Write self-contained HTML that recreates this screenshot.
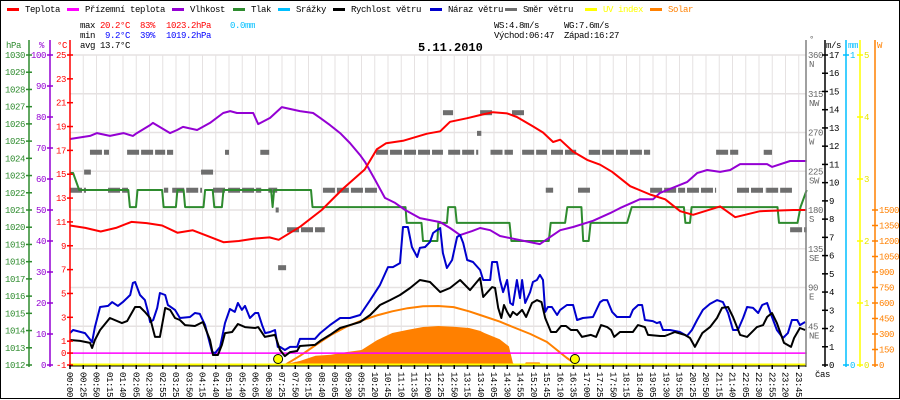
<!DOCTYPE html>
<html><head><meta charset="utf-8"><style>
html,body{margin:0;padding:0;background:#fff;width:900px;height:400px;overflow:hidden}
svg{display:block;font-family:"Liberation Mono","DejaVu Sans Mono",monospace;letter-spacing:-0.4px}
</style></head><body>
<svg id="chart" width="900" height="400" viewBox="0 0 900 400" xmlns="http://www.w3.org/2000/svg">
<rect x="0.5" y="0.5" width="899" height="398" fill="#fff" stroke="#000"/>
<g id="grid"></g>
<g id="series"></g>
<g id="axes"></g>
<g id="legend" font-size="9"></g>
<g font-size="9">
<text x="80" y="28">max</text>
<text x="100" y="28" fill="#f00">20.2°C</text>
<text x="140" y="28" fill="#f00">83%</text>
<text x="166" y="28" fill="#f00">1023.2hPa</text>
<text x="230" y="28" fill="#00bfff">0.0mm</text>
<text x="80" y="38">min</text>
<text x="105" y="38" fill="#00f">9.2°C</text>
<text x="140" y="38" fill="#00f">39%</text>
<text x="166" y="38" fill="#00f">1019.2hPa</text>
<text x="80" y="48">avg 13.7°C</text>
<text x="494" y="28">WS:4.8m/s</text>
<text x="564" y="28">WG:7.6m/s</text>
<text x="494" y="38">Východ:06:47</text>
<text x="564" y="38">Západ:16:27</text>
<text x="418" y="51" font-size="12" font-weight="bold" letter-spacing="0">5.11.2010</text>
</g>
</svg>
<script>
// ---------- data ----------
const timeLabels=["00:00","00:25","00:50","01:15","01:40","02:05","02:30","02:55","03:25","03:50","04:15","04:40","05:10","05:40","06:05","06:30","07:25","07:50","08:15","08:40","09:05","09:30","09:55","10:20","10:45","11:10","11:35","12:00","12:25","12:50","13:15","13:40","14:05","14:30","14:55","15:20","15:45","16:10","16:35","17:00","17:25","17:50","18:15","18:40","19:05","19:30","19:55","20:25","20:50","21:15","21:40","22:05","22:30","22:55","23:20","23:45"];
const tempHours=[0,0.5,1,1.5,2,2.5,3,3.5,4,4.5,5,5.5,6,6.5,6.8,7.5,8.2,8.9,9.6,10.0,10.3,10.85,11.63,12.06,12.38,12.94,13.42,13.78,14.24,14.56,15.09,15.41,15.74,15.97,16.39,16.85,17.27,17.66,18.25,18.9,19.39,19.88,20.3,21.18,21.67,22.48,23.56,24];
const tempValues=[10.7,10.5,10.2,10.5,11.0,10.9,10.7,10.1,10.3,9.8,9.3,9.4,9.6,9.7,9.5,10.6,12.0,13.8,15.4,17.1,17.6,17.8,18.4,18.6,19.4,19.7,20.0,20.2,20.1,19.8,19.0,18.5,17.7,17.9,16.9,16.2,15.8,15.2,14.0,13.3,12.9,11.9,11.6,12.3,11.4,11.9,12.0,12.0];
const feelHours=[0,24];
const feelValues=[0,0];
const humHours=[0,0.65,0.88,1.3,1.74,2.05,2.18,2.61,2.7,3.26,3.49,3.68,4.14,4.56,4.99,5.22,5.44,5.97,6.13,6.52,6.9,7.49,7.92,8.15,8.47,8.8,9.12,9.45,9.61,9.94,10.26,10.59,10.92,11.4,12.06,12.38,12.71,13.1,13.36,13.69,14.01,14.66,15.31,15.97,16.39,17.04,17.6,17.92,18.57,19.0,19.22,20.1,20.43,20.76,21.18,21.51,21.83,22.71,22.87,23.46,24];
const humValues=[72.9,73.9,74.8,73.9,74.8,73.9,74.8,77.4,78.1,74.8,75.8,76.8,75.8,78.1,81.3,81.9,81.3,81.3,77.7,79.7,83.2,81.9,81.3,79.7,77.4,74.8,71.6,67.7,65.5,59.7,53.9,52.3,50,47.4,46.1,44.2,41.9,43.2,44.2,43.5,41.6,40.3,39,43.5,44.5,46.5,49,50.6,53.5,53.5,55.5,59,61.9,62.9,62.3,62.9,64.8,64.8,63.9,65.8,65.8];
const pressHours=[0,0.1,0.3,1.9,1.95,2.15,2.2,3.0,3.05,3.45,3.5,3.7,3.75,4.35,4.4,4.65,4.7,4.95,5.0,6.55,6.6,6.65,7.85,7.9,10.93,10.97,11.45,11.5,11.97,12.0,12.28,12.32,12.55,12.6,14.32,14.38,15.6,15.66,16.13,16.2,16.66,16.72,16.9,16.96,18.15,18.3,20.0,20.05,20.2,20.25,23.05,23.1,23.7,23.8,24];
const pressValues=[1023.15,1023.15,1022.16,1022.16,1021.17,1021.17,1022.16,1022.16,1021.17,1021.17,1022.16,1022.16,1021.17,1021.17,1022.16,1022.16,1021.17,1021.17,1022.16,1022.16,1021.17,1022.16,1022.16,1021.17,1021.17,1020.25,1020.25,1019.2,1019.2,1020.25,1020.25,1021.17,1021.17,1020.25,1020.25,1019.2,1019.2,1020.25,1020.25,1021.17,1021.17,1019.2,1019.2,1020.25,1020.25,1021.17,1021.17,1020.25,1020.25,1021.17,1021.17,1020.25,1020.25,1021.17,1022.16];
const windHours=[0,0.33,0.65,0.72,0.81,0.98,1.3,1.69,1.86,2.12,2.28,2.44,2.61,2.77,2.93,3.1,3.26,3.42,3.58,3.75,4.07,4.33,4.56,4.66,4.82,4.95,5.05,5.28,5.47,5.7,6.03,6.13,6.35,6.68,6.84,7.0,7.17,7.4,7.49,7.98,8.15,8.47,8.8,9.12,9.45,9.78,10.1,10.43,10.75,11.08,11.4,11.73,12.06,12.38,12.71,13.03,13.36,13.46,13.75,13.85,13.95,14.05,14.14,14.24,14.34,14.43,14.56,14.73,14.86,15.05,15.21,15.36,15.48,15.67,15.84,16.0,16.16,16.32,16.52,16.68,16.97,17.14,17.3,17.5,17.63,17.73,17.92,18.34,18.5,18.73,18.83,19.22,19.38,19.71,20.03,20.2,20.36,20.6,20.85,21.08,21.24,21.44,21.6,21.83,22.06,22.38,22.58,22.71,22.87,23.03,23.26,23.49,23.59,23.78,23.95];
const windValues=[1.37,1.32,1.21,0.93,1.37,1.92,2.58,2.30,2.41,3.18,3.18,2.91,2.58,1.54,1.54,3.13,3.02,2.58,2.47,2.19,2.14,2.36,1.37,0.55,0.55,1.10,1.75,1.81,2.25,2.08,2.03,2.08,1.54,1.65,0.82,0.49,0.71,0.77,1.04,1.10,1.32,1.65,2.03,2.19,2.36,2.74,3.29,3.56,3.84,4.22,4.66,4.55,4.00,4.22,4.66,4.11,4.77,3.73,4.27,4.22,3.13,2.58,3.29,2.91,2.63,2.91,2.74,3.02,2.63,3.40,3.56,3.45,2.58,1.81,1.81,2.14,2.14,1.92,1.92,1.54,1.65,1.54,2.19,2.08,1.92,1.54,1.81,1.81,2.19,2.08,1.65,1.59,1.59,1.81,1.65,1.48,0.99,1.75,2.08,2.58,3.13,3.18,2.63,1.65,1.54,2.08,2.19,2.63,2.85,2.30,1.21,0.99,1.48,2.03,1.92,1.48];
const gustHours=[0,0.1,0.49,0.72,0.81,0.98,1.24,1.37,1.56,1.72,1.96,2.05,2.12,2.28,2.44,2.54,2.61,2.71,2.84,2.93,3.1,3.19,3.42,3.58,3.91,4.07,4.23,4.4,4.63,4.73,4.89,5.05,5.21,5.37,5.47,5.6,5.7,5.86,6.03,6.13,6.26,6.36,6.52,6.68,6.77,6.84,7.0,7.17,7.4,7.49,7.98,8.15,8.47,8.8,9.12,9.45,9.78,10.1,10.36,10.52,10.75,10.85,11.01,11.14,11.31,11.4,11.57,11.73,11.83,11.96,12.06,12.15,12.28,12.45,12.61,12.71,12.81,12.94,13.13,13.36,13.46,13.69,13.75,13.91,14.01,14.11,14.24,14.34,14.43,14.56,14.66,14.73,14.83,14.99,15.08,15.21,15.31,15.41,15.48,15.57,15.7,15.87,15.97,16.19,16.39,16.52,16.71,17.04,17.27,17.37,17.5,17.66,17.82,18.24,18.34,18.51,18.64,18.73,18.99,19.12,19.22,19.32,19.55,19.87,20.1,20.26,20.43,20.62,20.85,21.08,21.27,21.44,21.6,21.76,21.93,22.06,22.25,22.42,22.55,22.71,22.87,23.03,23.23,23.39,23.52,23.69,23.78,23.95];
const gustValues=[1.75,1.92,1.75,1.26,2.08,3.18,3.24,3.45,3.24,3.45,3.84,4.5,4.55,3.84,3.56,2.91,2.36,2.47,3.13,3.95,3.84,3.29,3.02,2.58,2.63,2.85,2.80,2.19,0.71,0.66,0.99,2.30,3.07,2.91,3.40,3.02,3.24,2.58,2.85,2.85,2.19,1.75,1.81,1.92,0.99,0.99,0.82,0.99,0.99,1.43,1.43,1.75,2.19,2.58,2.58,2.74,3.56,4.39,5.37,5.37,5.59,7.57,7.57,6.47,5.92,6.42,6.47,6.75,7.24,7.40,7.51,6.14,5.32,5.76,7.02,7.13,6.69,5.76,5.65,5.21,4.66,4.66,5.65,5.65,4.66,4.0,4.66,3.40,3.29,4.66,3.67,4.66,3.40,4.0,4.55,4.66,4.94,4.66,2.91,3.18,3.18,2.74,3.02,3.29,3.29,2.47,2.58,2.63,3.45,3.56,3.56,2.91,2.63,2.63,3.02,3.29,3.29,2.47,2.41,2.30,2.36,1.92,1.92,1.81,1.59,1.92,2.47,3.02,3.35,3.56,3.45,2.85,1.92,1.92,2.58,3.18,3.13,2.85,3.29,3.40,2.63,1.92,1.48,1.75,2.47,2.47,2.19,2.36];
const dirStart=[0,0.46,0.65,1.24,1.86,3.06,3.16,3.33,4.27,4.66,5.05,5.15,6.2,6.46,6.7,6.78,7.07,8.24,9.97,12.15,12.32,13.26,13.36,13.7,14.4,14.73,15.5,15.67,16.55,16.9,17.33,18.9,20.1,21.05,21.73,22.6,22.68,23.46];
const dirEnd=[0.52,0.68,1.27,1.89,3.1,3.2,3.36,4.3,4.73,5.09,5.18,6.23,6.49,6.75,6.8,7.04,8.3,10.0,12.15,12.48,13.3,13.4,13.75,14.43,14.8,15.54,15.74,16.49,16.94,17.27,18.9,20.04,21.05,21.77,22.65,22.87,23.52,24];
const dirValues=[203,224,247,203,247,203,247,203,224,203,247,203,247,203,180,113,157,203,247,293,247,269,293,247,293,247,203,247,203,247,247,203,203,247,203,247,203,157];
const solarHours=[6.9,7.5,8.0,8.5,9.0,9.5,10.0,10.5,11.0,11.5,12.0,12.5,13.0,13.36,13.5,14.0,14.3,14.43,14.5,14.8,14.85,15.3,15.35];
const solarValues=[0,40,90,100,125,145,240,310,340,368,377,370,358,330,310,250,180,20,0,0,25,25,0];
const solarMaxHours=[7.0,7.5,8.15,8.5,9.0,9.5,10.0,10.5,11.0,11.5,12.0,12.5,13.0,13.36,14.0,14.43,15.0,15.54,16.19,16.52];
const solarMaxValues=[0,90,223,290,370,430,480,520,550,568,571,560,520,484,420,368,300,223,68,0];
const uvHours=[0,24];
const uvValues=[0,0];
const sunEvents=[6.78,16.45];

// ---------- scales ----------
const X0=70,X1=806,YT=55,YB=365;
const xH=h=>X0+h*(799-X0)/23.75;
const yT=t=>YB-(t+1)*310/26;
const yP=p=>YB-(p-1012)*310/18;
const yHum=v=>YB-v*3.1;
const yW=v=>YB-v*310/17;
const yD=d=>YB-d*310/360;
const yS=w=>YB-w*310/3000;
const yUV=u=>YB-u*310/5;

const NS="http://www.w3.org/2000/svg";
function mk(tag,parent,attrs){const e=document.createElementNS(NS,tag);for(const k in attrs)e.setAttribute(k,attrs[k]);parent.appendChild(e);return e;}
const grid=document.getElementById('grid'),ser=document.getElementById('series'),ax=document.getElementById('axes'),lg=document.getElementById('legend');

for(let i=1;i<=55;i++){const x=X0+i*13.25;const l=mk('line',grid,{x1:x,x2:x,y1:YT,y2:YB,stroke:'#e6e2e2','stroke-width':1});

}
for(let i=0;i<8;i++){const y=YT+i*310/8;const l=mk('line',grid,{x1:X0,x2:X1,y1:y,y2:y,stroke:'#e6e2e2','stroke-width':1.5});

}

function line(hs,vs,yf,color,w,name){const p=hs.map((h,i)=>xH(h).toFixed(1)+','+yf(vs[i]).toFixed(1)).join(' ');
const e=mk('polyline',ser,{points:p,fill:'none',stroke:color,'stroke-width':w,'stroke-linejoin':'round'});

return e;}

{const pts=solarHours.map((h,i)=>xH(h).toFixed(1)+','+yS(solarValues[i]).toFixed(1));
pts.push(xH(solarHours[solarHours.length-1]).toFixed(1)+','+YB);pts.unshift(xH(solarHours[0]).toFixed(1)+','+YB);
const e=mk('polygon',ser,{points:pts.join(' '),fill:'#ff8000'});

}
line(solarMaxHours,solarMaxValues,yS,'#ff8000',2,'solar-max-line');
dirStart.forEach((s,i)=>{const y=yD(dirValues[i]);const e=mk('line',ser,{x1:xH(s),x2:xH(dirEnd[i]),y1:y,y2:y,stroke:'#6e6e6e','stroke-width':5,'stroke-dasharray':'12 2'});

});
line(feelHours,feelValues,yT,'#ff00ff',1.5,'apparent-temperature-line');
line(pressHours,pressValues,yP,'#2e8b2e',2,'pressure-line');
line(humHours,humValues,yHum,'#9400d3',2,'humidity-line');
line(tempHours,tempValues,yT,'#ff0000',2,'temperature-line');
line(gustHours,gustValues,yW,'#0000cd',2,'wind-gust-line');
line(windHours,windValues,yW,'#000000',2,'wind-speed-line');
line(uvHours,uvValues,yUV,'#ffff00',3,'uv-index-line');
sunEvents.forEach(h=>{const c=mk('circle',ser,{cx:xH(h),cy:YB-6,r:4.5,fill:'#ffff00',stroke:'#000','stroke-width':1});

});

function axisLine(x,color,name){const e=mk('line',ax,{x1:x,x2:x,y1:YT-15,y2:YB+2,stroke:color,'stroke-width':1.5});

}
function lbl(x,y,t,color,anchor,name,size){const e=mk('text',ax,{x:x,y:y,fill:color,'text-anchor':anchor||'start','font-size':size||9});e.textContent=t;

return e;}
function tick(x1,x2,y,color){mk('line',ax,{x1:x1,x2:x2,y1:y,y2:y,stroke:color,'stroke-width':1.5});}
axisLine(29,'#2e8b2e','pressure-axis');axisLine(50,'#9400d3','humidity-axis');axisLine(70,'#ff0000','temperature-axis');
axisLine(806,'#808080','direction-axis');axisLine(825,'#000','wind-axis');axisLine(846,'#00bfff','rain-axis');axisLine(860,'#ffff00','uv-axis');axisLine(875,'#ff8000','solar-axis');
lbl(6,48,'hPa','#2e8b2e','start','pressure-unit');lbl(39,48,'%','#9400d3','start','humidity-unit');lbl(57,48,'°C','#ff0000','start','temperature-unit');
for(let p=1012;p<=1030;p++){const y=yP(p);tick(26,32,y,'#2e8b2e');lbl(25,y+3,String(p),'#2e8b2e','end','pressure-tick-label');}
for(let h=0;h<=100;h+=10){const y=yHum(h);tick(47,53,y,'#9400d3');lbl(46,y+3,String(h),'#9400d3','end','humidity-tick-label');}
for(let t=-1;t<=25;t++){const y=yT(t);if(t===0||t%2!==0){tick(67,73,y,'#f00');lbl(66,y+3,String(t),'#f00','end','temperature-tick-label');}}
const dirNames=['','NE','E','SE','S','SW','W','NW','N'];
for(let i=1;i<=8;i++){const d=i*45,y=yD(d);lbl(808,y+3,String(d),'#666','start','direction-tick-label');lbl(809,y+12,dirNames[i],'#666','start','direction-name-label');}
lbl(809,42,'°','#666','start','direction-unit');
for(let v=0;v<=17;v++){const y=yW(v);tick(822,828,y,'#000');lbl(829,y+3,String(v),'#000','start','wind-tick-label');}
lbl(826,48,'m/s','#000','start','wind-unit');
lbl(848,48,'mm','#00bfff','start','rain-unit');tick(843,849,YT,'#00bfff');lbl(850,YT+3,'1','#00bfff','start','rain-tick-label');tick(843,849,YB,'#00bfff');lbl(850,YB+3,'0','#00bfff','start','rain-tick-label');
for(let u=0;u<=5;u++){const y=yUV(u);tick(857,863,y,'#ffff00');lbl(864,y+3,String(u),'#e6e600','start','uv-tick-label');}
lbl(877,48,'W','#ff8000','start','solar-unit');
for(let w=0;w<=1500;w+=150){const y=yS(w);tick(872,878,y,'#ff8000');lbl(879,y+3,String(w),'#ff8000','start','solar-tick-label');}
{const e=mk('line',ax,{x1:X0,x2:X1,y1:YB+1,y2:YB+1,stroke:'#000','stroke-width':1});

}
timeLabels.forEach((t,i)=>{const x=X0+i*13.25;mk('line',ax,{x1:x,x2:x,y1:YB,y2:YB+4,stroke:'#000','stroke-width':1.5});
const e=mk('text',ax,{x:0,y:0,'font-size':9,fill:'#000',transform:`translate(${x-3},372) rotate(90)`});e.textContent=t;

});
lbl(815,377,'čas','#000','start','x-axis-title');

const legNames=['Teplota','Přízemní teplota','Vlhkost','Tlak','Srážky','Rychlost větru','Náraz větru','Směr větru','UV index','Solar'];
const legColors=['#ff0000','#ff00ff','#9400d3','#2e8b2e','#00bfff','#000000','#0000cd','#6e6e6e','#ffff00','#ff8000'];
const legX=[7,67,172,233,278,333,430,505,585,650];
legNames.forEach((n,i)=>{const g=mk('g',lg,{});


mk('rect',g,{x:legX[i],y:8,width:12,height:3,fill:legColors[i]});
const t=mk('text',g,{x:legX[i]+18,y:12,fill:(i>=8?legColors[i]:'#000')});t.textContent=n;});
</script>
</body></html>
